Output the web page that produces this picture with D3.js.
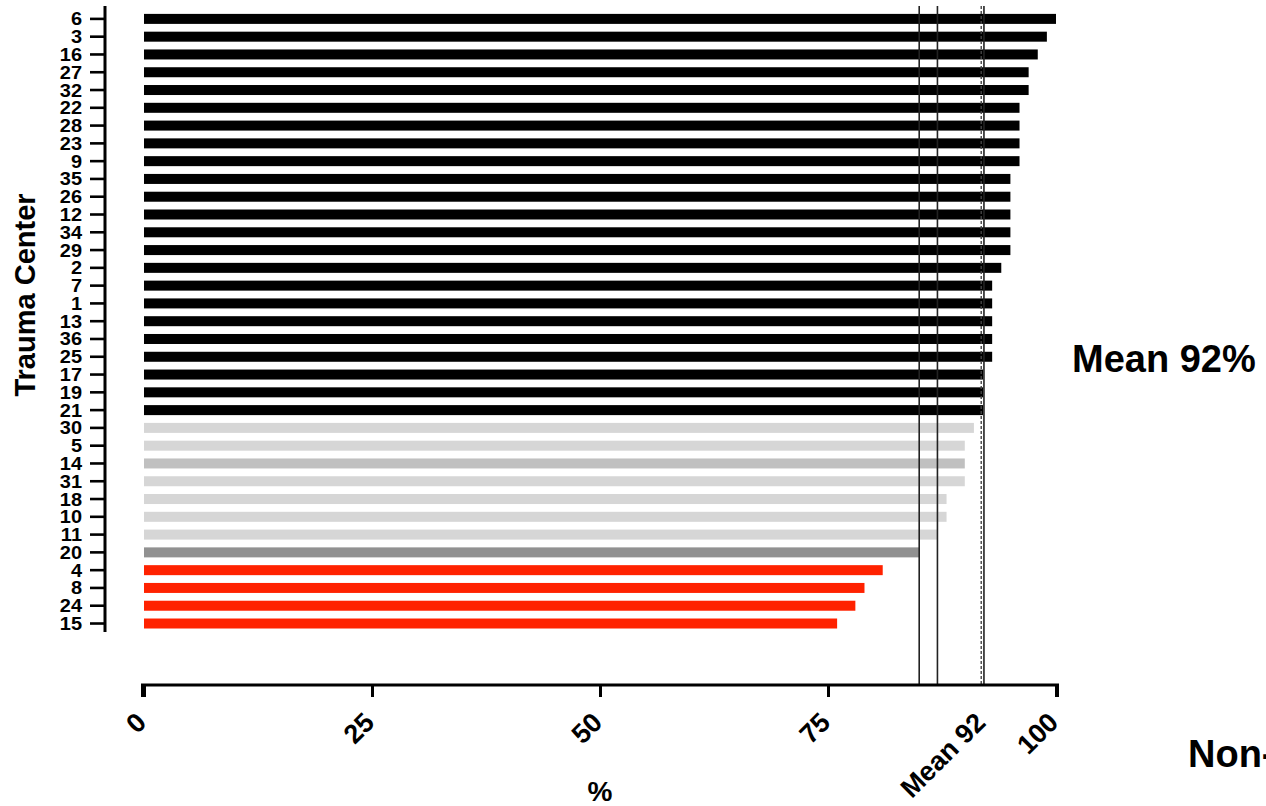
<!DOCTYPE html>
<html>
<head>
<meta charset="utf-8">
<script src="https://cdn.jsdelivr.net/npm/d3@7/dist/d3.min.js"></script>
<style>
  html, body { margin: 0; padding: 0; background: #fff; overflow: hidden; }
  svg { display: block; }
  text { font-family: "Liberation Sans", Arial, Helvetica, sans-serif; font-weight: bold; fill: #000; }
</style>
</head>
<body>
<svg id="chart" width="1266" height="806"></svg>
<script>
// ---- Data ----
const categories = ["6","3","16","27","32","22","28","23","9","35","26","12","34","29","2","7","1","13","36","25","17","19","21","30","5","14","31","18","10","11","20","4","8","24","15"];
const values = [100,99,98,97,97,96,96,96,96,95,95,95,95,95,94,93,93,93,93,93,92,92,92,91,90,90,90,88,88,87,85,81,79,78,76];
const groups = ["top","top","top","top","top","top","top","top","top","top","top","top","top","top","top","top","top","top","top","top","top","top","top",
                "light","light","mid","light","light","light","light","dark","low","low","low","low"];
const groupNames = ["top","light","mid","dark","low"];
const groupColors = ["#000000","#d6d6d6","#c0c0c0","#919191","#ff2200"];
const xTicks = [0,25,50,75,100];
const xLabelValues = [0,25,50,75,92,100];
const xLabelTexts = ["0","25","50","75","Mean 92","100"];
const refSolid = [85, 87, 92.1];
const refDashed = [91.8];

// ---- Layout ----
const svg = d3.select("#chart");
const x = d3.scaleLinear().domain([0, 100]).range([144, 1056]);
const y = d3.scaleBand().domain(categories).range([10, 632.4]).paddingInner(0.44).paddingOuter(0.22);
const color = d3.scaleOrdinal().domain(groupNames).range(groupColors);
const axisY = 685;

const data = categories.map((c, i) => ({ c, v: values[i], g: groups[i] }));

// Bars
svg.append("g").selectAll("rect").data(data).join("rect")
  .attr("x", x(0))
  .attr("y", d => y(d.c) + y.bandwidth() / 2 - 5)
  .attr("width", d => x(d.v) - x(0))
  .attr("height", 10)
  .attr("fill", d => color(d.g));

// Reference lines
svg.append("g").selectAll("line").data(refSolid).join("line")
  .attr("x1", d => x(d)).attr("x2", d => x(d))
  .attr("y1", 6).attr("y2", axisY)
  .attr("stroke", "#222").attr("stroke-width", 1.6);
svg.append("g").selectAll("line").data(refDashed).join("line")
  .attr("x1", d => x(d)).attr("x2", d => x(d))
  .attr("y1", 6).attr("y2", axisY)
  .attr("stroke", "#444").attr("stroke-width", 1.4)
  .attr("stroke-dasharray", "3,2");

// X axis
const gx = svg.append("g").attr("transform", `translate(0,${axisY})`)
  .call(d3.axisBottom(x).tickValues(xTicks).tickSize(12).tickSizeOuter(0).tickFormat(""));
gx.select(".domain").attr("stroke", "#000").attr("stroke-width", 3)
  .attr("d", `M${x(0) - 1.5},12V0H${x(100) + 1.5}V12`);
gx.selectAll(".tick line").attr("stroke", "#000").attr("stroke-width", 3);

svg.append("g").selectAll("text").data(xLabelValues).join("text")
  .attr("transform", d => `translate(${x(d) + 4},724) rotate(-45)`)
  .attr("text-anchor", "end")
  .style("font-size", "27px")
  .text((d, i) => xLabelTexts[i]);

// Y axis
const gy = svg.append("g").attr("transform", "translate(105,0)")
  .call(d3.axisLeft(y).tickSize(15).tickSizeOuter(0).tickFormat(""));
gy.select(".domain").attr("stroke", "#000").attr("stroke-width", 3)
  .attr("d", "M0,6V632");
gy.selectAll(".tick line").attr("stroke", "#000").attr("stroke-width", 2.6);

svg.append("g").selectAll("text").data(categories).join("text")
  .attr("transform", d => `translate(82,${y(d) + y.bandwidth() / 2}) scale(1,0.9)`)
  .attr("text-anchor", "end")
  .attr("dy", "0.36em")
  .style("font-size", "20px")
  .text(d => d);

// Titles
svg.append("text")
  .attr("transform", "translate(35,295) rotate(-90)")
  .attr("text-anchor", "middle")
  .style("font-size", "29px")
  .text("Trauma Center");

svg.append("text")
  .attr("x", 600).attr("y", 801)
  .attr("text-anchor", "middle")
  .style("font-size", "28px")
  .text("%");

svg.append("text")
  .attr("x", 1072).attr("y", 372)
  .style("font-size", "38px")
  .text("Mean 92%");

svg.append("text")
  .attr("x", 1188).attr("y", 767)
  .style("font-size", "38px")
  .text("Non-");
</script>
</body>
</html>
